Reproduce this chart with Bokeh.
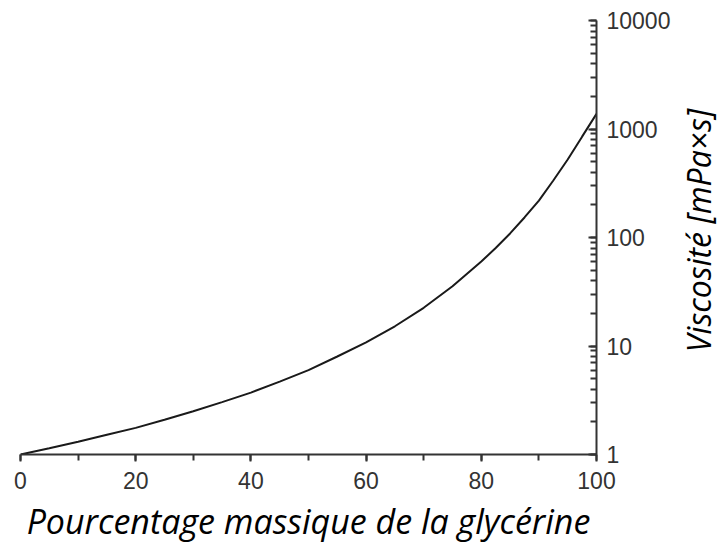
import math
from bokeh.plotting import figure
from bokeh.layouts import row
from bokeh.embed import file_html
from bokeh.resources import INLINE
from bokeh.models import SingleIntervalTicker, Range1d, LogTicker, PrintfTickFormatter, Label

# Data: mass percentage of glycerine vs viscosity (mPa·s)
pct = [0, 5, 10, 15, 20, 25, 30, 35, 40, 45, 50, 55, 60, 65, 70, 75, 80, 82.5, 85,
       87.5, 90, 92.5, 95, 97.5, 100]
visc = [1.0, 1.14, 1.31, 1.52, 1.76, 2.09, 2.5, 3.04, 3.72, 4.7, 6.0, 8.0, 10.8, 15.2,
        22.5, 35.5, 60.1, 80, 109, 153, 219, 335, 523, 850, 1380]
x_title = "Pourcentage massique de la glycérine"
y_title = "Viscosité [mPa×s]"

p = figure(frame_width=576, frame_height=434, output_backend="svg", toolbar_location=None,
           y_axis_type="log", y_axis_location="right",
           x_range=Range1d(0, 100), y_range=Range1d(1, 10000),
           min_border_left=20, min_border_top=20, min_border_bottom=0, min_border_right=80)
p.outline_line_color = None
p.xgrid.visible = False
p.ygrid.visible = False

p.line(pct, visc, line_color="#1a1a1a", line_width=2)

xa = p.xaxis[0]
xa.ticker = SingleIntervalTicker(interval=20, num_minor_ticks=2)
xa.axis_line_color = "#333333"
xa.axis_line_width = 2
xa.major_tick_line_color = "#333333"
xa.minor_tick_line_color = "#333333"
xa.major_tick_line_width = 2
xa.minor_tick_line_width = 2
xa.major_tick_in = 0
xa.major_tick_out = 7
xa.minor_tick_in = 0
xa.minor_tick_out = 6
xa.major_label_text_font = "Liberation Sans"
xa.major_label_text_font_size = "23px"
xa.major_label_text_color = "#333333"
xa.major_label_standoff = 10
xa.axis_label = x_title
xa.axis_label_text_font = "Open Sans"
xa.axis_label_text_font_style = "italic"
xa.axis_label_text_font_size = "34px"
xa.axis_label_text_color = "#000000"
xa.axis_label_standoff = 6

ya = p.yaxis[0]
ya.ticker = LogTicker(num_minor_ticks=10)
ya.formatter = PrintfTickFormatter(format="%d")
ya.axis_line_color = "#333333"
ya.axis_line_width = 2
ya.major_tick_line_color = "#333333"
ya.minor_tick_line_color = "#333333"
ya.major_tick_line_width = 2
ya.minor_tick_line_width = 2
ya.major_tick_in = 8
ya.major_tick_out = 0
ya.minor_tick_in = 6
ya.minor_tick_out = 0
ya.major_label_text_font = "Liberation Sans"
ya.major_label_text_font_size = "23px"
ya.major_label_text_color = "#333333"
ya.major_label_standoff = 10

# Side panel holding the rotated y-axis title (reads bottom to top)
p2 = figure(width=44, height=540, output_backend="svg", toolbar_location=None,
            x_range=Range1d(0, 44), y_range=Range1d(540, 0), min_border=0)
p2.axis.visible = False
p2.grid.visible = False
p2.outline_line_color = None
ylab = Label(x=22, y=265, text=y_title,
             angle=90, angle_units="deg", text_align="center", text_baseline="middle",
             text_font="Open Sans", text_font_style="italic", text_font_size="32px",
             text_color="#000000")
p2.add_layout(ylab)

layout = row(p, p2, spacing=0)
open("out.html", "w").write(file_html(layout, INLINE))
